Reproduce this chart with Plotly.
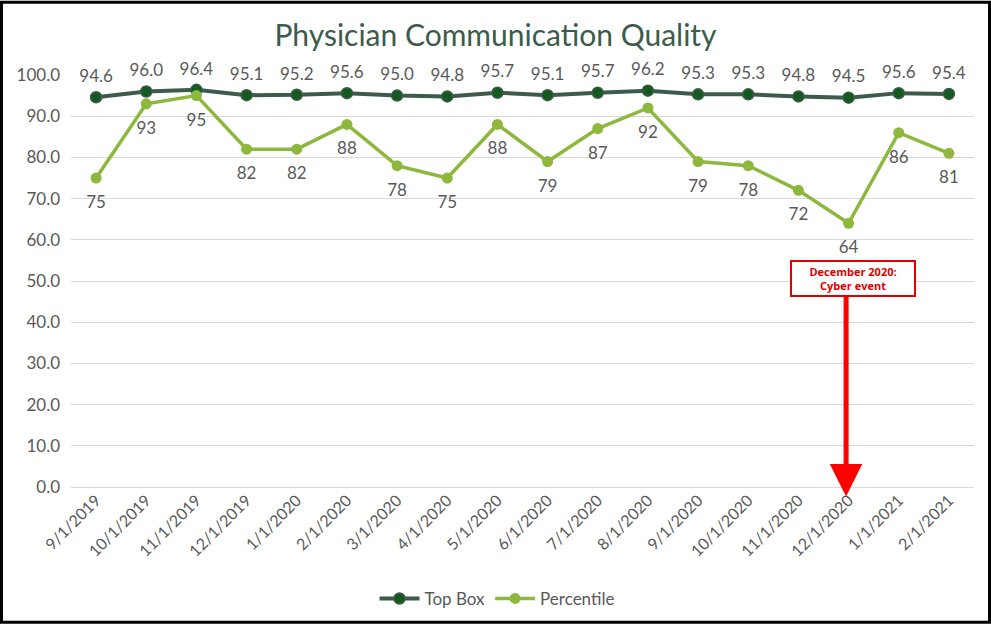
import plotly.graph_objects as go

dates = ["9/1/2019", "10/1/2019", "11/1/2019", "12/1/2019", "1/1/2020", "2/1/2020",
         "3/1/2020", "4/1/2020", "5/1/2020", "6/1/2020", "7/1/2020", "8/1/2020",
         "9/1/2020", "10/1/2020", "11/1/2020", "12/1/2020", "1/1/2021", "2/1/2021"]
top_box = [94.6, 96.0, 96.4, 95.1, 95.2, 95.6, 95.0, 94.8, 95.7, 95.1, 95.7, 96.2,
           95.3, 95.3, 94.8, 94.5, 95.6, 95.4]
percentile = [75, 93, 95, 82, 82, 88, 78, 75, 88, 79, 87, 92, 79, 78, 72, 64, 86, 81]

event_index = 15
event_text = "December 2020:<br>Cyber event"

W, H = 991, 629
L, R, T, B = 71, 17, 75, 138
FONT = "Lato"
GREY = "#595959"
xs = list(range(len(dates)))

fig = go.Figure()
fig.add_trace(go.Scatter(
    x=xs, y=top_box, name="Top Box", mode="lines+markers",
    line=dict(color="#3d5b4b", width=4),
    marker=dict(size=11, color="#145a1e", line=dict(color="#3d5b4b", width=1.5)),
    cliponaxis=False,
))
fig.add_trace(go.Scatter(
    x=xs, y=percentile, name="Percentile", mode="lines+markers",
    line=dict(color="#8db83d", width=3.5),
    marker=dict(size=11, color="#8db83d"),
    cliponaxis=False,
))
# data labels (transparent large markers give label offset)
fig.add_trace(go.Scatter(
    x=xs, y=top_box, mode="markers+text", showlegend=False, hoverinfo="skip",
    marker=dict(size=16, opacity=0),
    text=[f"{v:.1f}" for v in top_box], textposition="top center",
    textfont=dict(family=FONT, size=17, color=GREY), cliponaxis=False,
))
fig.add_trace(go.Scatter(
    x=xs, y=percentile, mode="markers+text", showlegend=False, hoverinfo="skip",
    marker=dict(size=26, opacity=0),
    text=[str(v) for v in percentile], textposition="bottom center",
    textfont=dict(family=FONT, size=17, color=GREY), cliponaxis=False,
))

# annotation box
fig.add_annotation(
    x=event_index + 0.08, y=50.6, xref="x", yref="y",
    text="<b>" + event_text + "</b>", showarrow=False,
    font=dict(family="Open Sans", size=11, color="#e00000"),
    bordercolor="#e00000", borderwidth=2, borderpad=2, bgcolor="white",
    width=118, align="center",
)
# arrow
fig.add_annotation(
    x=event_index - 0.05, y=-2.3, xref="x", yref="y",
    ax=event_index - 0.05, ay=46.5, axref="x", ayref="y",
    text="", showarrow=True, arrowhead=2, arrowsize=1.3, arrowwidth=5,
    arrowcolor="#ff0000",
)

# outer black border
px = lambda p: (p - L) / (W - L - R)
py = lambda p: (H - B - p) / (H - T - B)
fig.add_shape(type="rect", xref="paper", yref="paper",
              x0=px(1.5), x1=px(W - 1.5), y0=py(H - 1.5), y1=py(1.5),
              line=dict(color="black", width=3), layer="above")

fig.update_layout(
    width=W, height=H,
    margin=dict(l=L, r=R, t=T, b=B),
    paper_bgcolor="white", plot_bgcolor="white",
    title=dict(text="Physician Communication Quality", x=0.5, xref="container",
               xanchor="center", y=1 - 35 / H, yanchor="middle",
               font=dict(family=FONT, size=30, color="#3d5b4b")),
    font=dict(family=FONT, color=GREY),
    xaxis=dict(
        tickmode="array", tickvals=xs, ticktext=dates,
        range=[-0.5, len(dates) - 0.5], tickangle=-45,
        tickfont=dict(family=FONT, size=16, color=GREY),
        showgrid=False, showline=False, zeroline=False, ticks="",
    ),
    yaxis=dict(
        range=[0, 100], dtick=10, tickformat=".1f",
        tickfont=dict(family=FONT, size=17, color=GREY),
        gridcolor="#d9d9d9", gridwidth=1, zeroline=True, zerolinecolor="#d9d9d9",
        zerolinewidth=1, showline=False, ticks="", ticklabelstandoff=10,
    ),
    legend=dict(orientation="h", x=px(497), xanchor="center", y=py(604), yanchor="middle",
                font=dict(family=FONT, size=17, color=GREY), itemwidth=40),
    showlegend=True,
)

fig.write_html("out.html")
